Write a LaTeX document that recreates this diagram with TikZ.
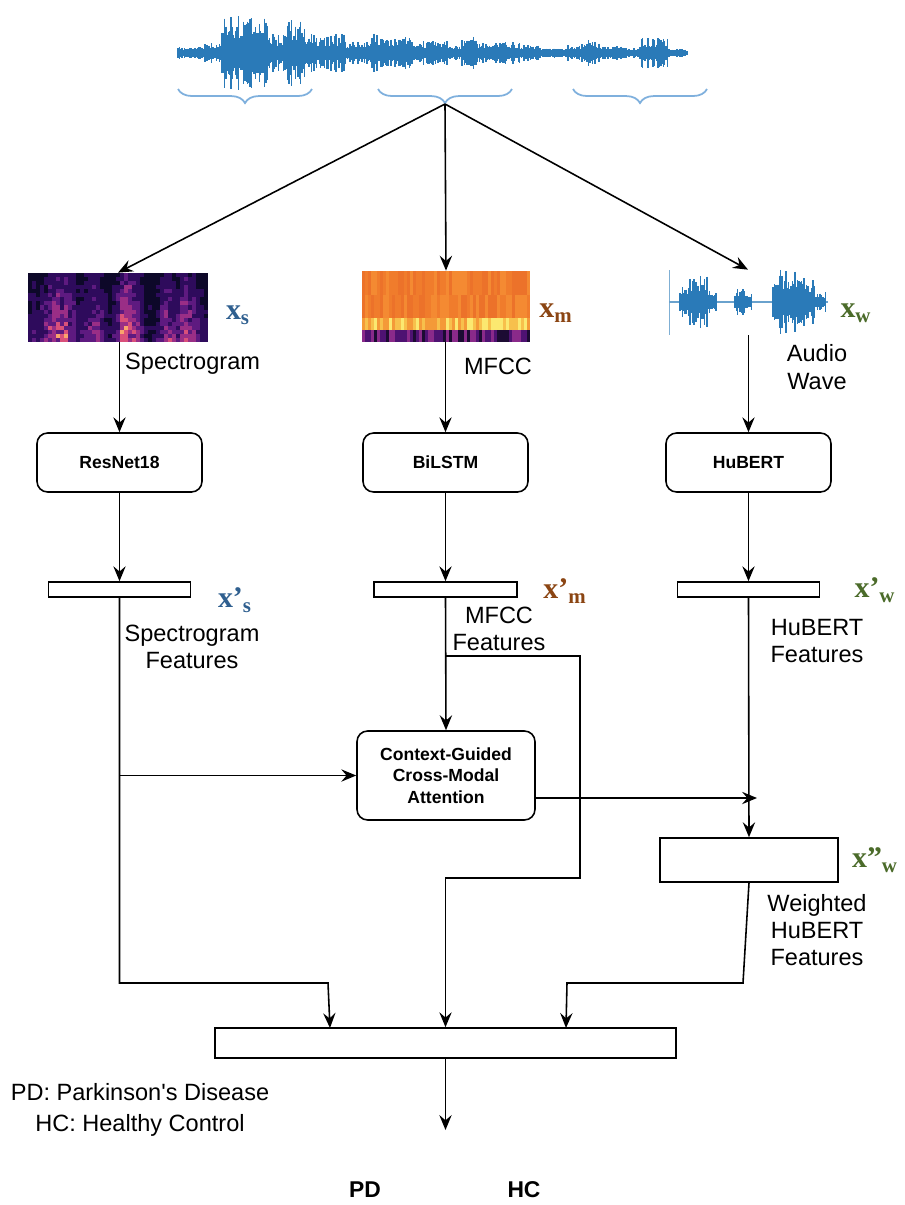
\documentclass[tikz,border=0pt]{standalone}
\usepackage{fontspec}
\setmainfont{Liberation Sans}
\newfontfamily\serifx{Liberation Serif}
\usetikzlibrary{arrows.meta,decorations.pathreplacing}

\definecolor{ondablu}{HTML}{2A7AB8}
\definecolor{graffa}{HTML}{7FB0DD}
\definecolor{blus}{HTML}{2F5F8F}
\definecolor{marrone}{HTML}{8B4513}
\definecolor{verde}{HTML}{4B6B2A}
% spettrogramma
\definecolor{spec0}{HTML}{0D0829}
\definecolor{spec1}{HTML}{2E0B5C}
\definecolor{spec2}{HTML}{5E1A80}
\definecolor{spec3}{HTML}{9A2E86}
\definecolor{spec4}{HTML}{D9507A}
\definecolor{spec5}{HTML}{F9A46C}
% mfcc
\definecolor{mt0}{HTML}{F07C2C}
\definecolor{mt1}{HTML}{F48A32}
\definecolor{mt2}{HTML}{EC722A}
\definecolor{my0}{HTML}{FBE870}
\definecolor{my1}{HTML}{F7C04C}
\definecolor{my2}{HTML}{F49A38}
\definecolor{mb0}{HTML}{1C0B33}
\definecolor{mb1}{HTML}{4E1272}
\definecolor{mb2}{HTML}{8A2A8A}

\begin{document}
\begin{tikzpicture}[x=0.02cm,y=-0.02cm,
    arr/.style={-{Stealth[length=8.5pt,width=7pt,inset=3pt]},line width=0.9pt},
    blocco/.style={draw,line width=0.9pt,rounded corners=6pt,align=center,
        font=\fontsize{10}{12.3}\selectfont\bfseries},
    barra/.style={draw,line width=0.9pt,inner sep=0},
    testo/.style={align=center,font=\fontsize{13.4}{15.5}\selectfont},
    etich/.style={inner sep=0,font=\serifx\bfseries\fontsize{17}{17}\selectfont},
    immagine/.style={inner sep=0}]
        \useasboundingbox (0,0) rectangle (904,1205);

        % Onda sonora
        \pgfmathsetseed{11}
        \draw[ondablu,line width=2pt] (178,53) -- (688,53);
        \foreach \a/\b/\h in {178/205/4, 205/222/8, 222/232/46, 232/268/38, 268/285/18,
            285/305/34, 305/345/17, 345/372/10, 372/382/20, 382/412/14, 412/448/10,
            448/462/5, 462/478/15, 478/520/9, 520/540/6, 540/568/3, 568/582/6,
            582/600/11, 600/625/5, 625/640/3, 640/668/13, 668/686/2}{
            \pgfmathtruncatemacro\n{(\b-\a)/1.3}
            \foreach \k in {0,...,\n}{
                \pgfmathsetmacro\r{2+\h*(0.3+0.7*rnd)}
                \draw[ondablu,line width=0.9pt] ({\a+1.3*\k},{53-\r}) -- ++(0,{2*\r});
            }
        }
        \node[immagine,minimum width=10.2cm,minimum height=2cm] (voce) at (433,53) {};
        \foreach \a/\b in {178/312,378/512,573/707}
            \draw[graffa,line width=1pt,decorate,decoration={brace,mirror,amplitude=8pt}] (\a,89) -- (\b,89);
        \coordinate (diramaz) at (445,104);

        % Spettrogramma
        \foreach \e [count=\i from 0] in {0.3,0.35,0.3,0.4,0.5, 0.65,0.75,0.8,0.7,0.75,0.6,0.5,
            0.3,0.35,0.45, 0.55,0.6,0.5,0.45, 0.3,0.25,0.35,0.5, 0.8,0.95,0.85,0.7,0.6,0.45,
            0.25,0.2,0.2,0.3,0.45, 0.65,0.6,0.5,0.4, 0.7,0.75,0.6,0.55,0.4, 0.3,0.25}{
            \foreach \j in {0,...,16}{
                \pgfmathtruncatemacro\lv{min(5,int(\e*(0.4+0.6*\j/16)*(0.6+0.6*rnd)*6))}
                \fill[spec\lv] ({28+4*\i},{273+4.06*\j}) rectangle ++(4.3,4.3);
            }
        }
        \node[immagine,minimum width=3.6cm,minimum height=1.38cm] (spettro) at (118,307.5) {};

        % MFCC
        \foreach \i in {0,...,55}{
            \pgfmathtruncatemacro\ma{int(rnd*3)}
            \pgfmathtruncatemacro\mb{int(rnd*3)}
            \pgfmathtruncatemacro\mc{int(rnd*3)}
            \pgfmathtruncatemacro\md{int(rnd*3)}
            \fill[mt\ma] ({362+3*\i},271) rectangle ++(3.2,24);
            \fill[mt\mb] ({362+3*\i},295) rectangle ++(3.2,23);
            \fill[my\mc] ({362+3*\i},318) rectangle ++(3.2,12);
            \fill[mb\md] ({362+3*\i},330) rectangle ++(3.2,12);
        }
        \node[immagine,minimum width=3.36cm,minimum height=1.42cm] (mfcc) at (446,306.5) {};

        % Forma d'onda
        \draw[ondablu!60,line width=0.5pt] (669,270) -- (669,335);
        \draw[ondablu!70,line width=0.6pt] (669,302) -- (828,302);
        \foreach \a/\b/\h in {680/690/14, 690/708/26, 708/716/11, 735/745/12, 745/752/7,
            773/778/20, 778/800/32, 800/815/23, 815/826/9}{
            \pgfmathtruncatemacro\n{(\b-\a)/1.3}
            \foreach \k in {0,...,\n}{
                \pgfmathsetmacro\r{1+\h*(0.35+0.65*rnd)}
                \draw[ondablu,line width=0.9pt] ({\a+1.3*\k},{302-\r}) -- ++(0,{2*\r});
            }
        }
        \node[immagine,minimum width=3.2cm,minimum height=1.3cm] (onda) at (748,302.5) {};

        % Etichette degli ingressi
        \node[etich,text=blus] (xs) at (238,315) {x\textsubscript{s}};
        \node[etich,text=marrone] (xm) at (556,313) {x\textsubscript{m}};
        \node[etich,text=verde] (xw) at (856,313) {x\textsubscript{w}};
        \node[testo,anchor=west] (tspettro) at (119,364) {Spectrogram};
        \node[testo] (tmfcc) at (498,366) {MFCC};
        \node[testo] (tonda) at (817,367) {Audio\\Wave};

        % Blocchi
        \node[blocco,minimum width=3.3cm,minimum height=1.18cm] (resnet) at (119.5,462.5) {ResNet18};
        \node[blocco,minimum width=3.3cm,minimum height=1.18cm] (bilstm) at (445.5,462.5) {BiLSTM};
        \node[blocco,minimum width=3.3cm,minimum height=1.18cm] (hubert) at (748.5,462.5) {HuBERT};

        \node[barra,minimum width=2.84cm,minimum height=0.3cm] (fs) at (119.5,589.5) {};
        \node[barra,minimum width=2.86cm,minimum height=0.3cm] (fm) at (445.5,589.5) {};
        \node[barra,minimum width=2.84cm,minimum height=0.3cm] (fw) at (748.5,589.5) {};

        \node[etich,text=blus] (xs1) at (235,600) {x’\textsubscript{s}};
        \node[etich,text=marrone] (xm1) at (565,591) {x’\textsubscript{m}};
        \node[etich,text=verde] (xw1) at (875,590) {x’\textsubscript{w}};
        \node[testo] (tfs) at (192,647) {Spectrogram\\Features};
        \node[testo] (tfm) at (499,629) {MFCC\\Features};
        \node[testo] (tfw) at (817,641) {HuBERT\\Features};

        \node[blocco,minimum width=3.56cm,minimum height=1.78cm] (cgca) at (446,775.5)
            {Context-Guided\\Cross-Modal\\Attention};
        \node[barra,minimum width=3.56cm,minimum height=0.88cm] (fw2) at (749,860) {};
        \node[etich,text=verde] (xw2) at (875,860) {x”\textsubscript{w}};
        \node[testo] (tfw2) at (817,930) {Weighted\\HuBERT\\Features};

        \node[barra,minimum width=9.22cm,minimum height=0.6cm] (fusione) at (445.5,1043) {};

        % Connessioni
        \draw[arr] (diramaz) -- (spettro.north);
        \draw[arr] (diramaz) -- (mfcc.north);
        \draw[arr] (diramaz) -- (onda.north);

        \draw[arr] (resnet.north |- spettro.south) -- (resnet.north);
        \draw[arr] (bilstm.north |- mfcc.south) -- (bilstm.north);
        \draw[arr] (hubert.north |- onda.south) -- (hubert.north);

        \draw[arr] (resnet.south) -- (fs.north);
        \draw[arr] (bilstm.south) -- (fm.north);
        \draw[arr] (hubert.south) -- (fw.north);

        % ramo sinistro
        \coordinate (sx1) at (119.5,983);
        \coordinate (sx2) at (328,983);
        \coordinate (sxin) at (330,1028);
        \draw[arr] (fs.south) -- (sx1) -- (sx2) -- (sxin);
        \draw[arr] (fs.south |- cgca.west) -- (cgca.west);

        % ramo centrale
        \coordinate (cx1) at (580,656);
        \coordinate (cx2) at (580,878);
        \draw[arr] (fm.south) -- (cgca.north);
        \draw[arr] (fm.south |- cx1) -- (cx1) -- (cx2) -- (fusione.north |- cx2) -- (fusione.north);

        % ramo destro
        \coordinate (attout) at (757,798);
        \draw[arr] (cgca.east |- attout) -- (attout);
        \draw[arr] (fw.south) -- (fw2.north);
        \coordinate (dx1) at (743,983);
        \coordinate (dx2) at (567,983);
        \coordinate (dxin) at (566,1028);
        \draw[arr] (fw2.south) -- (dx1) -- (dx2) -- (dxin);

        % Uscita
        \coordinate (uscita) at (445.5,1130);
        \draw[arr] (fusione.south) -- (uscita);

        \node[testo,font=\fontsize{13.4}{17.5}\selectfont] (legenda) at (140,1110)
            {PD: Parkinson\textquotesingle s Disease\\HC: Healthy Control};
        \node[font=\fontsize{13}{15}\selectfont\bfseries] (pd) at (365,1190) {PD};
        \node[font=\fontsize{13}{15}\selectfont\bfseries] (hc) at (524,1190) {HC};
    \end{tikzpicture}
\end{document}
